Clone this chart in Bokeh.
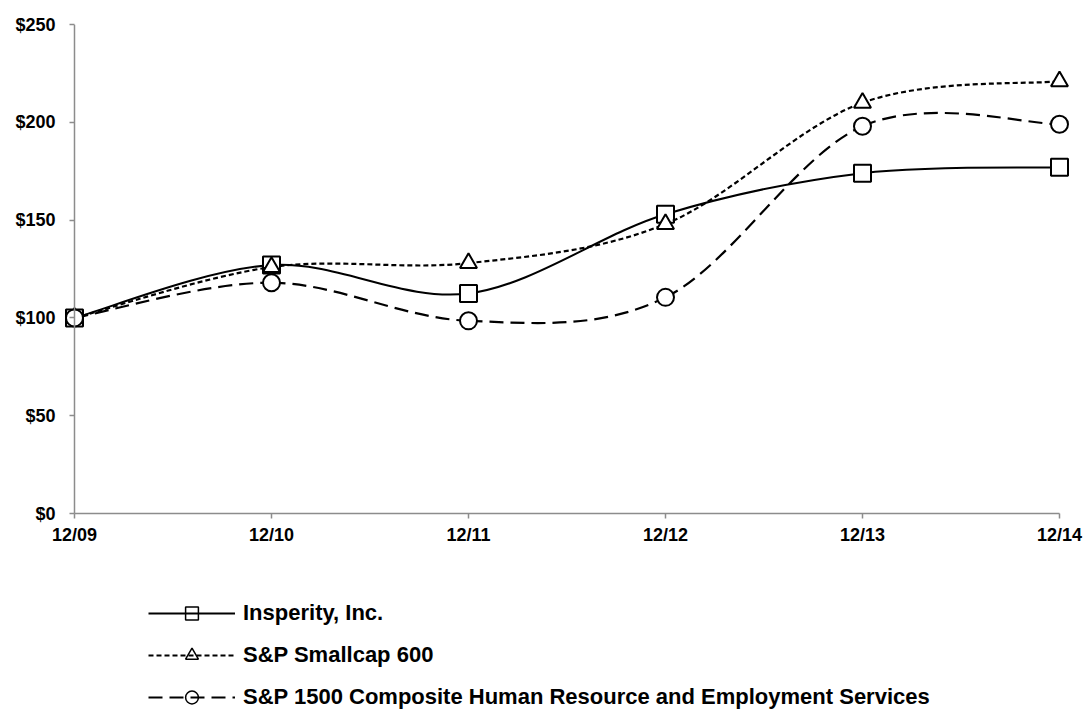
from bokeh.plotting import figure
from bokeh.layouts import column
from bokeh.models import (FixedTicker, PrintfTickFormatter, Legend, LegendItem,
                          Range1d, ColumnDataSource, Span)
from bokeh.embed import file_html
from bokeh.resources import INLINE

# ---- data ----
categories = ["12/09", "12/10", "12/11", "12/12", "12/13", "12/14"]
insperity = [100, 127, 112.5, 153, 174, 177]
smallcap = [100, 126, 128, 148, 210, 221]
hr_services = [100, 118, 98.5, 110.5, 198, 199]
series_names = ["Insperity, Inc.", "S&P Smallcap 600",
                "S&P 1500 Composite Human Resource and Employment Services"]
y_ticks = [0, 50, 100, 150, 200, 250]

FONT = "Liberation Sans"
W = 1086
H1 = 553
H2 = 156
AXIS_GREY = "#8c8c8c"

n_last = len(categories) - 1
p = figure(width=W, height=H1, output_backend="svg", toolbar_location=None,
           x_range=Range1d(-0.0609, n_last + 0.066), y_range=Range1d(0, 250),
           min_border_left=62, min_border_right=14, min_border_top=24,
           min_border_bottom=H1 - 24 - 489)
p.outline_line_color = None
p.xgrid.visible = False
p.ygrid.visible = False

xs = list(range(len(categories)))


def smooth_segments(ys):
    """Bezier control points (Excel-style smoothing) from the data points."""
    n = len(ys)
    seg = dict(x0=[], y0=[], x1=[], y1=[], cx0=[], cy0=[], cx1=[], cy1=[])
    for i in range(n - 1):
        xm1, ym1 = (xs[i - 1], ys[i - 1]) if i > 0 else (xs[i], ys[i])
        xp2, yp2 = (xs[i + 2], ys[i + 2]) if i + 2 < n else (xs[i + 1], ys[i + 1])
        seg["x0"].append(xs[i]); seg["y0"].append(ys[i])
        seg["x1"].append(xs[i + 1]); seg["y1"].append(ys[i + 1])
        seg["cx0"].append(xs[i] + (xs[i + 1] - xm1) / 6)
        seg["cy0"].append(ys[i] + (ys[i + 1] - ym1) / 6)
        seg["cx1"].append(xs[i + 1] - (xp2 - xs[i]) / 6)
        seg["cy1"].append(ys[i + 1] - (yp2 - ys[i]) / 6)
    return ColumnDataSource(seg)


styles = [
    (insperity, "solid", 2.0, "square"),
    (smallcap, "5 3", 2.2, "triangle"),
    (hr_services, "14 7", 2.2, "circle"),
]

# vertical axis line at the first category
p.add_layout(Span(location=xs[0], dimension="height", line_color=AXIS_GREY,
                  line_width=1.5))

# legend-only figure below the chart
lg = figure(width=W, height=H2, output_backend="svg", toolbar_location=None,
            x_range=Range1d(0, 1), y_range=Range1d(0, 1),
            x_axis_type=None, y_axis_type=None, min_border=0)
lg.outline_line_color = None
lg.xgrid.visible = False
lg.ygrid.visible = False

items = []
for (vals, dash, lw, marker), name in zip(styles, series_names):
    p.bezier(x0="x0", y0="y0", x1="x1", y1="y1", cx0="cx0", cy0="cy0",
             cx1="cx1", cy1="cy1", source=smooth_segments(vals),
             line_color="black", line_width=lw, line_dash=dash)
    p.scatter(xs, vals, marker=marker, size=17, fill_color="white",
              line_color="black", line_width=2)
    # legend swatches (points placed outside the visible legend range)
    lr = lg.line([-100, -99], [-100, -100], line_color="black", line_width=lw,
                 line_dash=dash)
    sr = lg.scatter([-100], [-100], marker=marker, fill_alpha=0,
                    line_color="black", line_width=1.5)
    items.append(LegendItem(label=name, renderers=[lr, sr]))

legend = Legend(items=items, location=(86, -4), orientation="vertical",
                glyph_width=87, glyph_height=32, label_height=32,
                spacing=10, label_standoff=8, padding=0, margin=0,
                border_line_color=None, background_fill_alpha=0,
                label_text_font=FONT, label_text_font_style="bold",
                label_text_font_size="22px", label_text_color="black")
lg.add_layout(legend, "center")

# x axis
xa = p.xaxis[0]
xa.ticker = FixedTicker(ticks=xs)
xa.major_label_overrides = {i: c for i, c in enumerate(categories)}
xa.bounds = (0, n_last)
xa.axis_line_color = AXIS_GREY
xa.axis_line_width = 1.5
xa.major_tick_line_color = AXIS_GREY
xa.major_tick_line_width = 1.5
xa.major_tick_in = 0
xa.major_tick_out = 5
xa.minor_tick_line_color = None
xa.major_label_text_font = FONT
xa.major_label_text_font_style = "bold"
xa.major_label_text_font_size = "18px"
xa.major_label_text_color = "black"
xa.major_label_standoff = 6

# y axis: labels at the frame edge, ticks reaching the axis line at 12/09
ya = p.yaxis[0]
ya.ticker = FixedTicker(ticks=y_ticks)
ya.formatter = PrintfTickFormatter(format="$%d")
ya.axis_line_color = None
ya.major_tick_line_color = AXIS_GREY
ya.major_tick_line_width = 1.5
ya.major_tick_line_dash = "0 7 5 100"
ya.major_tick_in = 12
ya.major_tick_out = 0
ya.minor_tick_line_color = None
ya.major_label_text_font = FONT
ya.major_label_text_font_style = "bold"
ya.major_label_text_font_size = "18px"
ya.major_label_text_color = "black"
ya.major_label_standoff = 7

layout = column(p, lg, spacing=0)
open("out.html", "w").write(file_html(layout, INLINE))
